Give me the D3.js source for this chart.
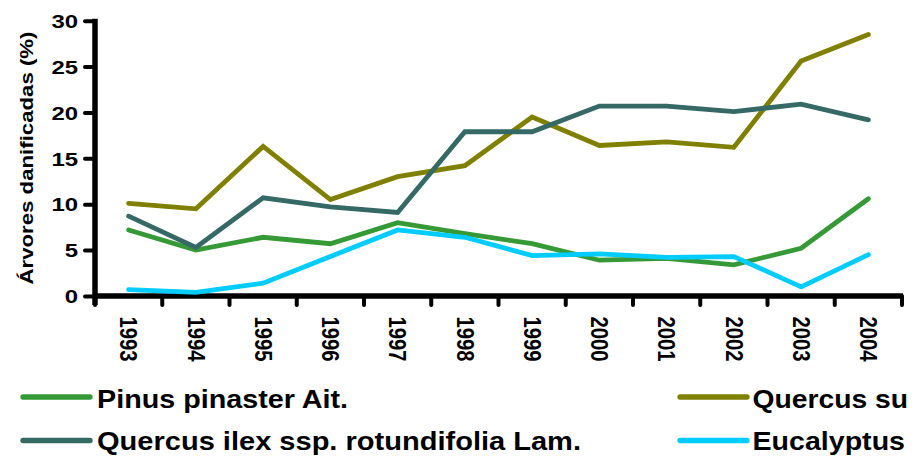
<!DOCTYPE html>
<html>
<head>
<meta charset="utf-8">
<script src="https://cdn.jsdelivr.net/npm/d3@7"></script>
<style>
  html, body { margin: 0; padding: 0; background: #fff; }
  svg { display: block; }
  text { font-family: "Liberation Sans", Arial, sans-serif; font-weight: bold; fill: #000; }
</style>
</head>
<body>
<svg id="chart" width="914" height="456"></svg>
<script>
// Years on the category axis
const years = ["1993","1994","1995","1996","1997","1998","1999","2000","2001","2002","2003","2004"];

// Percentage of damaged trees per species
const pinusPinaster = [7.2, 5.0, 6.4, 5.7, 8.0, 6.8, 5.7, 3.9, 4.1, 3.4, 5.2, 10.6];
const quercusSuber  = [10.1, 9.5, 16.3, 10.5, 13.0, 14.2, 19.5, 16.4, 16.8, 16.2, 25.6, 28.5];
const quercusIlex   = [8.7, 5.3, 10.7, 9.7, 9.1, 17.9, 17.9, 20.7, 20.7, 20.1, 20.9, 19.2];
const eucalyptus    = [0.7, 0.4, 1.4, 4.3, 7.2, 6.4, 4.4, 4.6, 4.2, 4.3, 1.0, 4.5];

const yTicks = [0, 5, 10, 15, 20, 25, 30];
const yTitle = "Árvores danificadas (%)";

const seriesNames  = ["Pinus pinaster Ait.", "Quercus su", "Quercus ilex ssp. rotundifolia Lam.", "Eucalyptus"];
const seriesColors = ["#359a35", "#808000", "#356966", "#00ccff"];

const series = [
  { name: seriesNames[0], color: seriesColors[0], values: pinusPinaster },
  { name: seriesNames[1], color: seriesColors[1], values: quercusSuber },
  { name: seriesNames[2], color: seriesColors[2], values: quercusIlex },
  { name: seriesNames[3], color: seriesColors[3], values: eucalyptus }
];

const svg = d3.select("#chart");

const x = d3.scaleBand().domain(years).range([95, 902]).padding(0);
const y = d3.scaleLinear().domain([0, 30]).range([296, 20.7]);

// Y axis
const yAxis = svg.append("g")
  .attr("transform", `translate(${x.range()[0]},0)`)
  .call(d3.axisLeft(y).tickValues(yTicks).tickSize(10).tickSizeOuter(0).tickPadding(8));
yAxis.select(".domain").attr("stroke", "#000").attr("stroke-width", 5.5)
  .attr("d", `M0,${y(30) - 2}V${y(0) + 9}`);
yAxis.selectAll(".tick line").attr("stroke", "#000").attr("stroke-width", 4).attr("stroke-linecap", "round");
yAxis.selectAll(".tick text")
  .attr("font-size", 18.5)
  .attr("x", -17)
  .attr("dy", "0.36em")
  .attr("textLength", d => String(d).length * 13.3)
  .attr("lengthAdjust", "spacingAndGlyphs");

// X axis: baseline plus boundary ticks between the year bands
const xAxis = svg.append("g");
xAxis.append("line")
  .attr("x1", x.range()[0]).attr("x2", x.range()[1] + 1)
  .attr("y1", y(0)).attr("y2", y(0))
  .attr("stroke", "#000").attr("stroke-width", 5.5);
const boundaries = years.map(d => x(d)).concat([x(years[years.length - 1]) + x.bandwidth()]);
xAxis.selectAll("line.xt").data(boundaries).join("line")
  .attr("class", "xt")
  .attr("x1", d => d).attr("x2", d => d)
  .attr("y1", y(0)).attr("y2", y(0) + 9)
  .attr("stroke", "#000").attr("stroke-width", 4).attr("stroke-linecap", "round");
xAxis.selectAll("text").data(years).join("text")
  .attr("transform", d => `translate(${x(d) + x.bandwidth() / 2},316.5) rotate(90)`)
  .attr("dy", "0.36em")
  .attr("font-size", 23)
  .attr("textLength", 45)
  .attr("lengthAdjust", "spacingAndGlyphs")
  .text(d => d);

// Y title
svg.append("text")
  .attr("transform", `translate(33,158) rotate(-90)`)
  .attr("text-anchor", "middle")
  .attr("font-size", 19)
  .attr("textLength", 253)
  .attr("lengthAdjust", "spacingAndGlyphs")
  .text(yTitle);

// Series lines
const line = d3.line()
  .x((d, i) => x(years[i]) + x.bandwidth() / 2)
  .y(d => y(d));

svg.append("g").selectAll("path").data(series).join("path")
  .attr("d", d => line(d.values))
  .attr("fill", "none")
  .attr("stroke", d => d.color)
  .attr("stroke-width", 4.8)
  .attr("stroke-linejoin", "miter")
  .attr("stroke-linecap", "round");

// Legend (two columns, two rows)
const legendPos = [
  { sx: 23, tx: 97, y: 397, w: 251 },
  { sx: 680, tx: 752.5, y: 397, w: 155.5 },
  { sx: 23, tx: 97, y: 440.5, w: 484 },
  { sx: 680, tx: 752.5, y: 440.5, w: 152.5 }
];
const legend = svg.append("g");
const items = legend.selectAll("g").data(series).join("g");
items.append("line")
  .attr("x1", (d, i) => legendPos[i].sx)
  .attr("x2", (d, i) => legendPos[i].sx + 67)
  .attr("y1", (d, i) => legendPos[i].y)
  .attr("y2", (d, i) => legendPos[i].y)
  .attr("stroke", d => d.color)
  .attr("stroke-width", 5.3)
  .attr("stroke-linecap", "round");
items.append("text")
  .attr("x", (d, i) => legendPos[i].tx)
  .attr("y", (d, i) => legendPos[i].y + (i < 2 ? 10.8 : 9.5))
  .attr("font-size", (d, i) => i < 2 ? 26 : 25.5)
  .attr("textLength", (d, i) => legendPos[i].w)
  .attr("lengthAdjust", "spacingAndGlyphs")
  .text(d => d.name);
</script>
</body>
</html>
